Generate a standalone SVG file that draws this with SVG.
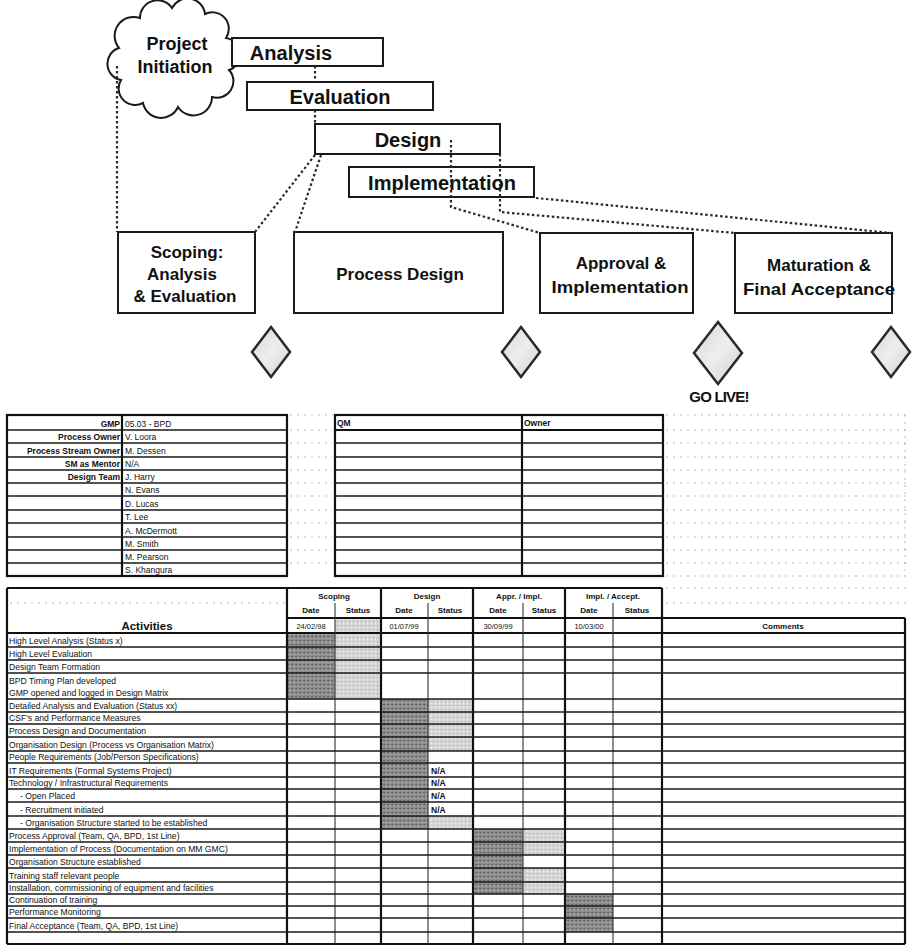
<svg xmlns="http://www.w3.org/2000/svg" width="912" height="945" viewBox="0 0 912 945">
  <defs>
    <style>
      .box { fill: #fff; stroke: #1a1a1a; stroke-width: 2; }
      .phase { font: bold 20px "Liberation Sans", Arial, sans-serif; fill: #111; text-anchor: middle; }
      .stage { font: bold 17px "Liberation Sans", Arial, sans-serif; fill: #111; text-anchor: middle; }
      .dash { fill: none; stroke: #2a2a2a; stroke-width: 2.2; stroke-dasharray: 2.5 2.5; }
      .dia { fill: url(#diaFill); stroke: #2a2a2a; stroke-width: 2.5; stroke-linejoin: miter; }
      .rule { fill: none; stroke: #1a1a1a; stroke-width: 1.7; }
      .rule2 { fill: none; stroke: #111; stroke-width: 2.2; }
      .thin { fill: none; stroke: #333; stroke-width: 1.1; }
      .grid { fill: none; stroke: #9a9a9a; stroke-width: 1; stroke-dasharray: 2 5; opacity: 0.7; }
      .lbl { font: bold 8.5px "Liberation Sans", Arial, sans-serif; fill: #111; text-anchor: end; }
      .val { font: 8.5px "Liberation Sans", Arial, sans-serif; fill: #111; }
      .hd { font: bold 8px "Liberation Sans", Arial, sans-serif; fill: #111; text-anchor: middle; }
      .act { font: 8.6px "Liberation Sans", Arial, sans-serif; fill: #111; }
      .dt { font: 7.5px "Liberation Sans", Arial, sans-serif; fill: #111; text-anchor: middle; }
    </style>
    <linearGradient id="diaFill" x1="0" y1="0" x2="1" y2="1">
      <stop offset="0" stop-color="#d6d6d6"/>
      <stop offset="0.5" stop-color="#eeeeee"/>
      <stop offset="1" stop-color="#d0d0d0"/>
    </linearGradient>
    <pattern id="dark" width="4" height="4" patternUnits="userSpaceOnUse">
      <rect width="4" height="4" fill="#8e8e8e"/>
      <rect x="0" y="0" width="1" height="1" fill="#555"/>
      <rect x="2" y="2" width="1" height="1" fill="#bdbdbd"/>
      <rect x="3" y="0" width="1" height="1" fill="#6a6a6a"/>
    </pattern>
    <pattern id="light" width="4" height="4" patternUnits="userSpaceOnUse">
      <rect width="4" height="4" fill="#d6d6d6"/>
      <rect x="1" y="1" width="1" height="1" fill="#a8a8a8"/>
      <rect x="3" y="3" width="1" height="1" fill="#f2f2f2"/>
    </pattern>
  </defs>

  <rect width="912" height="945" fill="#fff"/>

  <!-- phase cascade -->
  <g id="project-initiation">
    <path class="box" d="M119,48 A19,19 0 0 1 140,18 A17.5,17.5 0 0 1 172,8 A17.5,17.5 0 0 1 205,14 A16.5,16.5 0 0 1 226,38 A16.5,16.5 0 0 1 229,70 A16.5,16.5 0 0 1 212,97 A18.5,18.5 0 0 1 178,107 A18.5,18.5 0 0 1 143,103 A16.5,16.5 0 0 1 121,80 A16.5,16.5 0 0 1 119,48 Z"/>
    <text class="phase" style="font-size:18px" x="177" y="50">Project</text>
    <text class="phase" style="font-size:18px" x="175" y="73">Initiation</text>
  </g>
  <g id="analysis">
    <rect class="box" x="232" y="38" width="151" height="28"/>
    <text class="phase" x="291" y="60">Analysis</text>
  </g>
  <g id="evaluation">
    <rect class="box" x="247" y="82" width="186" height="28"/>
    <text class="phase" x="340" y="104">Evaluation</text>
  </g>
  <g id="design">
    <rect class="box" x="315" y="124" width="185" height="30"/>
    <text class="phase" x="408" y="147">Design</text>
  </g>
  <g id="implementation">
    <rect class="box" x="349" y="167" width="185" height="30"/>
    <text class="phase" x="442" y="190">Implementation</text>
  </g>

  <!-- project stages -->
  <g id="scoping">
    <rect class="box" x="118" y="232" width="137" height="81"/>
    <text class="stage" x="187" y="258">Scoping:</text>
    <text class="stage" x="182" y="280">Analysis</text>
    <text class="stage" x="185" y="302">&amp;  Evaluation</text>
  </g>
  <g id="process-design">
    <rect class="box" x="294" y="232" width="209" height="81"/>
    <text class="stage" x="400" y="280">Process Design</text>
  </g>
  <g id="approval-implementation">
    <rect class="box" x="540" y="233" width="153" height="80"/>
    <text class="stage" x="621" y="269">Approval &amp;</text>
    <text class="stage" x="620" y="293" textLength="137" lengthAdjust="spacingAndGlyphs">Implementation</text>
  </g>
  <g id="maturation-acceptance">
    <rect class="box" x="735" y="233" width="157" height="80"/>
    <text class="stage" x="819" y="271">Maturation &amp;</text>
    <text class="stage" x="819" y="295" textLength="152" lengthAdjust="spacingAndGlyphs">Final Acceptance</text>
  </g>

  <!-- milestones -->
  <g id="milestone-scoping">
    <polygon class="dia" points="271,327 290,352 271,377 252,352"/>
  </g>
  <g id="milestone-design">
    <polygon class="dia" points="521,327 540,352 521,377 502,352"/>
  </g>
  <g id="milestone-go-live">
    <polygon class="dia" points="718,322 742,353 718,384 694,353"/>
    <text x="719" y="402" style="font: bold 15px 'Liberation Sans', Arial, sans-serif; letter-spacing:-0.8px; text-anchor:middle; fill:#111">GO LIVE!</text>
  </g>
  <g id="milestone-acceptance">
    <polygon class="dia" points="891,327 910,352 891,377 872,352"/>
  </g>

  <!-- dashed links between phases and stages -->
  <g id="connectors">
    <path class="dash" d="M117,66 V232"/>
    <path class="dash" d="M315,66 V82 M315,110 V124"/>
    <path class="dash" d="M315,155 L255,232"/>
    <path class="dash" d="M321,155 L295,232"/>
    <path class="dash" d="M451,140 V207 L540,233"/>
    <path class="dash" d="M500,154 V212 L735,233"/>
    <path class="dash" d="M536,198 L892,233"/>
  </g>

  <!-- faint sheet gridlines -->
  <g id="sheet-grid">
    <path class="grid" d="M290,415 H333 M290,430 H333 M290,443 H333 M290,457 H333 M290,470 H333 M290,483 H333 M290,496 H333 M290,510 H333 M290,523 H333 M290,537 H333 M290,550 H333 M290,563 H333"/>
    <path class="grid" d="M666,415 H908 M666,430 H908 M666,443 H908 M666,457 H908 M666,470 H908 M666,483 H908 M666,496 H908 M666,510 H908 M666,523 H908 M666,537 H908 M666,550 H908 M666,563 H908 M666,576 H908"/>
    <path class="grid" d="M905,415 V576 M10,603 H285 M666,603 H908 M666,588 H908"/>
  </g>

  <!-- team table -->
  <g id="team-table">
    <rect class="rule2" x="7" y="415" width="280" height="161"/>
    <path class="rule2" d="M122,415 V576"/>
    <path class="rule" d="M7,430 H287 M7,443 H287 M7,457 H287 M7,470 H287 M7,483 H287 M7,496 H287 M7,510 H287 M7,523 H287 M7,537 H287 M7,550 H287 M7,563 H287"/>
    <text class="lbl" x="120" y="427">GMP</text>
    <text class="lbl" x="120" y="440">Process Owner</text>
    <text class="lbl" x="120" y="454">Process Stream Owner</text>
    <text class="lbl" x="120" y="467">SM as Mentor</text>
    <text class="lbl" x="120" y="480">Design Team</text>
    <text class="val" x="125" y="427">05.03 - BPD</text>
    <text class="val" x="125" y="440">V. Loora</text>
    <text class="val" x="125" y="454">M. Dessen</text>
    <text class="val" x="125" y="467">N/A</text>
    <text class="val" x="125" y="480">J. Harry</text>
    <text class="val" x="125" y="493">N. Evans</text>
    <text class="val" x="125" y="507">D. Lucas</text>
    <text class="val" x="125" y="520">T. Lee</text>
    <text class="val" x="125" y="534">A. McDermott</text>
    <text class="val" x="125" y="547">M. Smith</text>
    <text class="val" x="125" y="560">M. Pearson</text>
    <text class="val" x="125" y="573">S. Khangura</text>
  </g>

  <!-- QM / owner table -->
  <g id="qm-table">
    <rect class="rule2" x="335" y="415" width="328" height="161"/>
    <path class="rule2" d="M522,415 V576 M335,430 H663"/>
    <path class="rule" d="M335,443 H663 M335,457 H663 M335,470 H663 M335,483 H663 M335,496 H663 M335,510 H663 M335,523 H663 M335,537 H663 M335,550 H663 M335,563 H663"/>
    <text class="lbl" style="text-anchor:start" x="337" y="426">QM</text>
    <text class="lbl" style="text-anchor:start" x="524" y="426">Owner</text>
  </g>

  <!-- activity schedule -->
  <g id="activity-table">
    <!-- shaded status cells -->
    <rect fill="url(#light)" x="335" y="618" width="46" height="15"/>
    <rect fill="url(#dark)" x="287" y="633" width="48" height="66"/>
    <rect fill="url(#light)" x="335" y="633" width="46" height="66"/>
    <rect fill="url(#dark)" x="381" y="699" width="47" height="130"/>
    <rect fill="url(#light)" x="428" y="699" width="45" height="52"/>
    <rect fill="url(#light)" x="428" y="816" width="45" height="13"/>
    <rect fill="url(#dark)" x="473" y="829" width="50" height="65"/>
    <rect fill="url(#light)" x="523" y="829" width="42" height="26"/>
    <rect fill="url(#light)" x="523" y="868" width="42" height="26"/>
    <rect fill="url(#dark)" x="565" y="894" width="48" height="38"/>

    <!-- rules -->
    <path class="rule2" d="M7,588 H662 M287,618 H905 M7,633 H905 M7,944 H905"/>
    <path class="rule2" d="M7,588 V944 M287,588 V944 M381,588 V944 M473,588 V944 M565,588 V944 M662,588 V944 M905,618 V944"/>
    <path class="thin" d="M335,603 V944 M428,603 V944 M523,603 V944 M613,603 V944"/>
    <path class="rule" d="M7,647 H905 M7,660 H905 M7,673 H905 M7,699 H905 M7,712 H905 M7,724 H905 M7,737 H905 M7,751 H905 M7,763 H905 M7,777 H905 M7,789 H905 M7,802 H905 M7,816 H905 M7,829 H905 M7,842 H905 M7,855 H905 M7,868 H905 M7,882 H905 M7,894 H905 M7,906 H905 M7,918 H905 M7,932 H905"/>

    <!-- headings -->
    <text class="hd" x="334" y="599">Scoping</text>
    <text class="hd" x="427" y="599">Design</text>
    <text class="hd" x="519" y="599">Appr. / Impl.</text>
    <text class="hd" x="613" y="599">Impl. / Accept.</text>
    <text class="hd" x="311" y="613">Date</text>
    <text class="hd" x="358" y="613">Status</text>
    <text class="hd" x="404" y="613">Date</text>
    <text class="hd" x="450" y="613">Status</text>
    <text class="hd" x="498" y="613">Date</text>
    <text class="hd" x="544" y="613">Status</text>
    <text class="hd" x="589" y="613">Date</text>
    <text class="hd" x="637" y="613">Status</text>
    <text class="dt" x="311" y="629">24/02/98</text>
    <text class="dt" x="404" y="629">01/07/99</text>
    <text class="dt" x="498" y="629">30/09/99</text>
    <text class="dt" x="589" y="629">10/03/00</text>
    <text x="147" y="630" style="font: bold 11.5px 'Liberation Sans', Arial, sans-serif; text-anchor:middle; fill:#111">Activities</text>
    <text class="hd" x="783" y="629">Comments</text>

    <!-- activity names -->
    <text class="act" x="9" y="644">High Level Analysis (Status x)</text>
    <text class="act" x="9" y="657">High Level Evaluation</text>
    <text class="act" x="9" y="670">Design Team Formation</text>
    <text class="act" x="9" y="684">BPD Timing Plan developed</text>
    <text class="act" x="9" y="696">GMP opened and logged in Design Matrix</text>
    <text class="act" x="9" y="709">Detailed Analysis and Evaluation (Status xx)</text>
    <text class="act" x="9" y="721">CSF's and Performance Measures</text>
    <text class="act" x="9" y="734">Process Design and Documentation</text>
    <text class="act" x="9" y="748">Organisation Design (Process vs Organisation Matrix)</text>
    <text class="act" x="9" y="760">People Requirements (Job/Person Specifications)</text>
    <text class="act" x="9" y="774">IT Requirements (Formal Systems Project)</text>
    <text class="act" x="9" y="786">Technology / Infrastructural Requirements</text>
    <text class="act" x="20" y="799">- Open Placed</text>
    <text class="act" x="20" y="813">- Recruitment initiated</text>
    <text class="act" x="20" y="826">- Organisation Structure started to be established</text>
    <text class="act" x="9" y="839">Process Approval (Team, QA, BPD, 1st Line)</text>
    <text class="act" x="9" y="852">Implementation of Process (Documentation on MM GMC)</text>
    <text class="act" x="9" y="865">Organisation Structure established</text>
    <text class="act" x="9" y="879">Training staff relevant people</text>
    <text class="act" x="9" y="891">Installation, commissioning of equipment and facilities</text>
    <text class="act" x="9" y="903">Continuation of training</text>
    <text class="act" x="9" y="915">Performance Monitoring</text>
    <text class="act" x="9" y="929">Final Acceptance (Team, QA, BPD, 1st Line)</text>

    <!-- not-applicable marks -->
    <text class="lbl" style="text-anchor:start" x="431" y="774">N/A</text>
    <text class="lbl" style="text-anchor:start" x="431" y="786">N/A</text>
    <text class="lbl" style="text-anchor:start" x="431" y="799">N/A</text>
    <text class="lbl" style="text-anchor:start" x="431" y="813">N/A</text>
  </g>
</svg>
